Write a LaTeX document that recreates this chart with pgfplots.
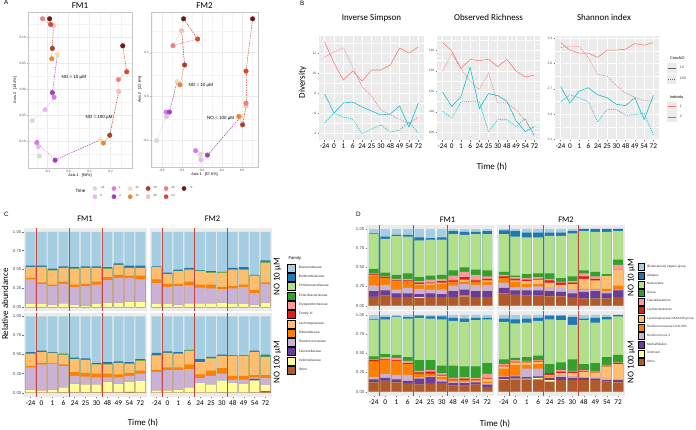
\documentclass[border=0pt]{standalone}
\usepackage{pgfplots}
\pgfplotsset{compat=1.18}
\usepackage{pgfplotstable}
\usepackage{fontspec}
\setmainfont{Liberation Sans}
\newfontfamily\calfont{Carlito}

\definecolor{panelbg}{HTML}{EBEBEB}
\definecolor{ticktxt}{HTML}{4D4D4D}
\definecolor{salm}{HTML}{F8766D}
\definecolor{cyanl}{HTML}{00BFC4}
\definecolor{sepred}{HTML}{C0473F}
% Paired palette
\definecolor{pa}{HTML}{A6CEE3}
\definecolor{pb}{HTML}{1F78B4}
\definecolor{pc}{HTML}{B2DF8A}
\definecolor{pd}{HTML}{33A02C}
\definecolor{pe}{HTML}{FB9A99}
\definecolor{pf}{HTML}{E31A1C}
\definecolor{pg}{HTML}{FDBF6F}
\definecolor{ph}{HTML}{FF7F00}
\definecolor{pi}{HTML}{CAB2D6}
\definecolor{pj}{HTML}{6A3D9A}
\definecolor{pk}{HTML}{FFFF99}
\definecolor{pl}{HTML}{B15928}
% time colours (panel A)
\definecolor{tA}{RGB}{217,217,217}
\definecolor{tB}{RGB}{233,184,242}
\definecolor{tC}{RGB}{213,122,238}
\definecolor{tD}{RGB}{166,60,190}
\definecolor{tE}{RGB}{247,217,188}
\definecolor{tF}{RGB}{232,135,58}
\definecolor{tG}{RGB}{181,59,38}
\definecolor{tH}{RGB}{242,193,185}
\definecolor{tI}{RGB}{232,132,122}
\definecolor{tJ}{RGB}{217,70,58}
\definecolor{tK}{RGB}{112,26,18}

% ---------------- panel A data (PCoA) ----------------
\pgfplotstableread{
x y c
-0.172 -0.061 0
-0.112 -0.040 1
-0.069 -0.016 2
-0.077 -0.007 3
-0.053 0.066 4
-0.080 0.058 5
-0.077 0.078 6
-0.072 0.122 7
-0.124 0.135 8
-0.085 0.124 9
-0.090 0.135 10
}\AoneLo
\pgfplotstableread{
x y c
-0.139 -0.129 0
-0.144 -0.111 1
-0.151 -0.103 2
-0.064 -0.137 3
0.150 -0.098 4
0.166 -0.104 5
0.196 -0.089 6
0.239 -0.005 7
0.237 0.018 8
0.277 0.033 9
0.258 0.083 10
}\AoneHi
\pgfplotstableread{
x y c
-0.227 -0.100 0
-0.177 -0.045 1
-0.180 -0.035 2
-0.163 -0.035 3
-0.125 0.034 4
-0.110 0.027 5
-0.087 0.072 6
-0.102 0.150 7
-0.145 0.116 8
-0.022 0.131 9
-0.092 0.177 10
}\AtwoLo
\pgfplotstableread{
x y c
-0.008 -0.132 0
-0.005 -0.144 1
-0.032 -0.123 2
0.027 -0.133 3
0.195 -0.045 4
0.184 -0.045 5
0.203 -0.064 6
0.220 -0.021 7
0.220 -0.015 8
0.220 0.058 9
0.253 0.177 10
}\AtwoHi

% ---------------- panel B data (diversity) ----------------
\pgfplotstableread{
x s10 s100 c10 c100
0 13.1 11.6 7.9 5.0
1 11.0 12.1 6.0 6.0
2 9.3 12.5 7.0 5.6
3 10.2 10.6 7.1 5.4
4 9.2 8.6 6.6 3.9
5 10.3 7.7 6.2 4.4
6 10.3 6.3 5.8 4.8
7 10.8 5.8 5.9 4.1
8 12.5 5.4 6.7 4.3
9 12.0 4.9 4.6 5.1
10 12.6 5.6 7.0 4.0
}\InvSimp
\pgfplotstableread{
x s10 s100 c10 c100
0 143.8 129.8 119.7 110.2
1 139.7 138.4 112.6 106.9
2 131.1 131.1 117.4 114.9
3 135.6 124.9 131.8 114.9
4 134.9 120.8 111.5 114.9
5 135.7 128.9 118.9 100.3
6 132.0 114.3 117.9 106.1
7 135.6 114.3 115.1 106.1
8 129.8 111.0 105.6 102.8
9 127.0 105.6 100.3 106.6
10 127.9 98.7 102.8 97.9
}\ObsRich
\pgfplotstableread{
x s10 s100 c10 c100
0 3.249 3.19 2.727 2.543
1 3.159 3.20 2.531 2.629
2 3.124 3.20 2.673 2.594
3 3.124 3.07 2.712 2.543
4 3.073 2.87 2.629 2.308
5 3.159 2.85 2.594 2.453
6 3.159 2.74 2.516 2.453
7 3.171 2.65 2.500 2.386
8 3.237 2.60 2.594 2.394
9 3.218 2.555 2.335 2.406
10 3.249 2.555 2.622 2.151
}\Shannon

% ---------------- panel C data (family, cumulative tops) ----------------
\pgfplotstableread{
x oth vei tan rum rik lac ent bur top
0 0 0.04 0.04 0.37 0.39 0.53 0.535 0.55 1
1 0 0.04 0.04 0.31 0.33 0.53 0.535 0.55 1
2 0 0.03 0.03 0.28 0.30 0.49 0.495 0.51 1
3 0 0.05 0.05 0.31 0.34 0.52 0.525 0.54 1
4 0 0.03 0.03 0.27 0.30 0.51 0.515 0.53 1
5 0 0.02 0.02 0.28 0.31 0.52 0.525 0.54 1
6 0 0.04 0.04 0.30 0.34 0.52 0.525 0.54 1
7 0 0.06 0.06 0.36 0.40 0.51 0.515 0.53 1
8 0 0.06 0.06 0.39 0.43 0.56 0.565 0.58 1
9 0 0.07 0.07 0.39 0.42 0.52 0.525 0.55 1
10 0 0.07 0.07 0.37 0.42 0.52 0.525 0.55 1
}\ConeLo
\pgfplotstableread{
x oth vei tan rum rik lac ent bur top
0 0 0.04 0.04 0.33 0.35 0.51 0.515 0.53 1
1 0 0.03 0.03 0.37 0.39 0.53 0.535 0.55 1
2 0 0.04 0.04 0.38 0.39 0.52 0.525 0.53 1
3 0.005 0.07 0.07 0.35 0.37 0.50 0.505 0.51 1
4 0.005 0.12 0.12 0.22 0.27 0.44 0.445 0.46 1
5 0.005 0.11 0.11 0.21 0.26 0.43 0.435 0.45 1
6 0.005 0.11 0.11 0.20 0.25 0.37 0.375 0.39 1
7 0.005 0.14 0.14 0.20 0.25 0.37 0.38 0.40 1
8 0.005 0.12 0.12 0.20 0.24 0.39 0.395 0.41 1
9 0.01 0.14 0.14 0.22 0.26 0.38 0.385 0.40 1
10 0.005 0.15 0.15 0.25 0.29 0.42 0.425 0.44 1
}\ConeHi
\pgfplotstableread{
x oth vei tan rum rik lac ent bur top
0 0 0.04 0.04 0.32 0.37 0.53 0.535 0.54 1
1 0 0.04 0.04 0.27 0.31 0.44 0.445 0.46 1
2 0 0.03 0.03 0.28 0.31 0.48 0.485 0.50 1
3 0 0.05 0.05 0.29 0.34 0.50 0.505 0.52 1
4 0 0.05 0.05 0.26 0.30 0.48 0.485 0.49 1
5 0 0.05 0.05 0.25 0.30 0.46 0.465 0.48 1
6 0 0.06 0.06 0.24 0.27 0.46 0.465 0.47 1
7 0 0.04 0.04 0.25 0.28 0.50 0.505 0.52 1
8 0 0.04 0.04 0.27 0.30 0.50 0.505 0.53 1
9 0 0.03 0.03 0.19 0.23 0.42 0.425 0.43 1
10 0 0.06 0.06 0.31 0.33 0.59 0.61 0.62 1
}\CtwoLo
\pgfplotstableread{
x oth vei tan rum rik lac ent bur top
0 0 0.03 0.03 0.27 0.30 0.49 0.495 0.52 1
1 0 0.03 0.03 0.30 0.33 0.52 0.525 0.54 1
2 0 0.04 0.04 0.30 0.33 0.51 0.515 0.53 1
3 0 0.07 0.07 0.31 0.37 0.55 0.555 0.56 1
4 0 0.13 0.13 0.19 0.24 0.40 0.41 0.44 1
5 0 0.11 0.11 0.22 0.29 0.45 0.46 0.47 1
6 0.005 0.16 0.16 0.25 0.32 0.48 0.49 0.50 1
7 0 0.13 0.13 0.17 0.22 0.48 0.485 0.49 1
8 0 0.12 0.12 0.17 0.22 0.48 0.485 0.49 1
9 0.005 0.16 0.18 0.20 0.23 0.53 0.54 0.55 1
10 0.02 0.10 0.10 0.19 0.23 0.47 0.49 0.50 1
}\CtwoHi

% ---------------- panel D data (genus, cumulative tops) ----------------
\pgfplotstableread{
x oth unk mul rtw ucg nkf lcl fae dor bac ali top
0 0.11 0.115 0.19 0.265 0.39 0.40 0.41 0.42 0.48 0.93 0.94 1
1 0.13 0.13 0.20 0.27 0.36 0.36 0.37 0.38 0.43 0.87 0.90 1
2 0.10 0.10 0.16 0.21 0.32 0.32 0.33 0.35 0.40 0.905 0.92 1
3 0.11 0.11 0.16 0.23 0.32 0.32 0.33 0.35 0.42 0.90 0.92 1
4 0.10 0.11 0.15 0.22 0.27 0.28 0.30 0.32 0.37 0.85 0.89 1
5 0.11 0.11 0.16 0.21 0.27 0.29 0.30 0.34 0.39 0.86 0.88 1
6 0.11 0.11 0.15 0.21 0.28 0.30 0.32 0.35 0.40 0.86 0.89 1
7 0.11 0.11 0.19 0.26 0.31 0.31 0.33 0.39 0.46 0.93 0.97 1
8 0.12 0.13 0.21 0.28 0.31 0.34 0.37 0.44 0.50 0.92 0.96 1
9 0.10 0.10 0.19 0.27 0.31 0.31 0.33 0.40 0.47 0.93 0.96 1
10 0.11 0.11 0.19 0.27 0.31 0.33 0.35 0.38 0.46 0.93 0.97 1
}\DoneLo
\pgfplotstableread{
x oth unk mul rtw ucg nkf lcl fae dor bac ali top
0 0.12 0.12 0.16 0.19 0.39 0.39 0.41 0.42 0.46 0.93 0.94 1
1 0.14 0.14 0.18 0.23 0.41 0.41 0.42 0.45 0.49 0.94 0.97 1
2 0.12 0.12 0.16 0.22 0.40 0.40 0.41 0.44 0.48 0.97 0.98 1
3 0.10 0.10 0.14 0.22 0.36 0.36 0.37 0.40 0.45 0.95 0.97 1
4 0.09 0.09 0.17 0.19 0.23 0.23 0.25 0.27 0.41 0.96 0.99 1
5 0.10 0.10 0.19 0.20 0.23 0.23 0.26 0.28 0.41 0.95 0.98 1
6 0.11 0.11 0.13 0.16 0.19 0.21 0.22 0.24 0.34 0.94 0.98 1
7 0.08 0.08 0.11 0.13 0.15 0.15 0.16 0.18 0.34 0.92 0.96 1
8 0.08 0.08 0.11 0.13 0.15 0.15 0.17 0.19 0.33 0.91 0.95 1
9 0.09 0.09 0.12 0.14 0.15 0.15 0.16 0.18 0.33 0.93 0.96 1
10 0.06 0.06 0.09 0.11 0.13 0.17 0.18 0.23 0.37 0.94 0.96 1
}\DoneHi
\pgfplotstableread{
x oth unk mul rtw ucg nkf lcl fae dor bac ali top
0 0.16 0.16 0.23 0.30 0.36 0.36 0.38 0.40 0.44 0.93 0.98 1
1 0.14 0.14 0.20 0.24 0.31 0.33 0.35 0.37 0.39 0.90 0.97 1
2 0.13 0.13 0.20 0.24 0.28 0.32 0.34 0.36 0.41 0.89 0.95 1
3 0.13 0.13 0.20 0.25 0.28 0.34 0.35 0.37 0.42 0.89 0.95 1
4 0.12 0.12 0.19 0.24 0.24 0.30 0.33 0.35 0.42 0.91 0.95 1
5 0.12 0.12 0.18 0.23 0.23 0.27 0.30 0.31 0.36 0.91 0.95 1
6 0.10 0.10 0.16 0.21 0.21 0.28 0.30 0.32 0.38 0.94 0.97 1
7 0.09 0.09 0.18 0.21 0.22 0.35 0.38 0.42 0.46 0.97 1 1
8 0.09 0.09 0.19 0.21 0.22 0.33 0.35 0.38 0.44 0.96 1 1
9 0.09 0.09 0.16 0.19 0.22 0.385 0.39 0.39 0.41 0.96 1 1
10 0.10 0.10 0.20 0.21 0.26 0.47 0.47 0.53 0.60 0.97 1 1
}\DtwoLo
\pgfplotstableread{
x oth unk mul rtw ucg nkf lcl fae dor bac ali top
0 0.15 0.16 0.19 0.20 0.30 0.33 0.34 0.36 0.42 0.91 0.95 1
1 0.16 0.17 0.20 0.21 0.35 0.38 0.39 0.41 0.44 0.89 0.94 1
2 0.16 0.17 0.19 0.30 0.35 0.38 0.39 0.40 0.45 0.90 0.95 1
3 0.16 0.18 0.20 0.30 0.36 0.39 0.40 0.41 0.47 0.92 0.96 1
4 0.13 0.15 0.18 0.19 0.20 0.22 0.24 0.24 0.36 0.94 0.99 1
5 0.15 0.15 0.19 0.21 0.21 0.24 0.26 0.28 0.38 0.93 0.99 1
6 0.15 0.15 0.18 0.20 0.20 0.24 0.26 0.27 0.42 0.87 0.97 1
7 0.15 0.15 0.18 0.19 0.19 0.26 0.27 0.28 0.36 0.93 0.95 1
8 0.15 0.15 0.17 0.19 0.19 0.25 0.26 0.27 0.37 0.90 0.96 1
9 0.13 0.13 0.15 0.17 0.17 0.33 0.34 0.35 0.45 0.94 0.97 1
10 0.12 0.12 0.15 0.16 0.16 0.36 0.37 0.38 0.48 0.98 1 1
}\DtwoHi

\pgfplotsset{
  colormap={timecols}{rgb255=(217,217,217) rgb255=(233,184,242) rgb255=(213,122,238)
    rgb255=(166,60,190) rgb255=(247,217,188) rgb255=(232,135,58) rgb255=(181,59,38)
    rgb255=(242,193,185) rgb255=(232,132,122) rgb255=(217,70,58) rgb255=(112,26,18)},
  pcoa/.style={scale only axis, anchor=north west,
    axis line style={gray!45, line width=0.4pt},
    grid=both, major grid style={gray!16, line width=0.35pt},
    minor grid style={gray!9, line width=0.2pt},
    tick align=outside, tick pos=left, major tick length=1.2pt, minor tick length=0pt,
    tick style={gray!70, line width=0.3pt},
    ticklabel style={font=\fontsize{3.2}{4}\selectfont, text=ticktxt, inner sep=0.8pt},
    label style={font=\fontsize{3.8}{4.5}\selectfont, inner sep=0.5pt},
    colormap name=timecols, point meta min=0, point meta max=10},
  divax/.style={scale only axis, anchor=north west, xmin=-0.6, xmax=10.6, height=104pt,
    axis background/.style={fill=panelbg}, axis line style={draw=none},
    xtick={0,...,10}, xticklabels={-24,0,1,6,24,25,30,48,49,54,72},
    grid=both, major grid style={white, line width=0.45pt},
    minor grid style={white, line width=0.2pt},
    tick align=outside, tick pos=left, major tick length=1.5pt, minor tick length=0pt,
    tick style={ticktxt!80, line width=0.3pt},
    yticklabel style={font=\fontsize{3.3}{4}\selectfont, text=ticktxt, inner sep=1pt},
    xticklabel style={font=\calfont\fontsize{7.3}{8}\selectfont, text=black, inner sep=1pt, yshift=-0.8pt}},
  stackax/.style={scale only axis, anchor=north west, xmin=-0.6, xmax=10.6, ymin=-0.05, ymax=1.05,
    axis background/.style={fill=panelbg}, axis line style={draw=none},
    xtick={0,...,10}, xticklabels={-24,0,1,6,24,25,30,48,49,54,72},
    ytick={0,0.25,0.5,0.75,1}, yticklabels={0.00,0.25,0.50,0.75,1.00},
    tick align=outside, tick pos=left, major tick length=1.5pt,
    tick style={ticktxt!80, line width=0.3pt},
    yticklabel style={font=\fontsize{4.3}{5}\selectfont, text=ticktxt, inner sep=1pt},
    xticklabel style={font=\calfont\fontsize{7.3}{8}\selectfont, text=black, inner sep=1pt, yshift=-1.2pt}},
  topfacet/.style={xtick=\empty},
  rightfacet/.style={ytick=\empty},
  cb/.style={ybar, bar width=0.9, bar shift=0pt, draw=none},
  db/.style={ybar, bar width=0.86, bar shift=0pt, draw=none},
  emptyax/.style={hide axis, scale only axis, width=2pt, height=2pt, anchor=north west,
    xmin=0, xmax=1, ymin=0, ymax=1, legend cell align=left},
}

% red separators between the sampling phases
\newcommand{\seps}{%
  \draw[sepred, line width=0.9pt] (axis cs:0.5,-0.05) -- (axis cs:0.5,1.05);
  \draw[sepred, line width=0.9pt] (axis cs:3.5,-0.05) -- (axis cs:3.5,1.05);
  \draw[sepred, line width=0.9pt] (axis cs:6.5,-0.05) -- (axis cs:6.5,1.05);}
\newcommand{\Cbars}[1]{%
  \addplot[cb, fill=pa] table[x=x,y=top]{#1};
  \addplot[cb, fill=pb] table[x=x,y=bur]{#1};
  \addplot[cb, fill=pd] table[x=x,y=ent]{#1};
  \addplot[cb, fill=pg] table[x=x,y=lac]{#1};
  \addplot[cb, fill=ph] table[x=x,y=rik]{#1};
  \addplot[cb, fill=pi] table[x=x,y=rum]{#1};
  \addplot[cb, fill=pj] table[x=x,y=tan]{#1};
  \addplot[cb, fill=pk] table[x=x,y=vei]{#1};
  \addplot[cb, fill=pl] table[x=x,y=oth]{#1};
  \seps}
\newcommand{\Dbars}[1]{%
  \addplot[ybar, bar width=1, bar shift=0pt, draw=none, fill=white] table[x=x,y=top]{#1};
  \addplot[db, fill=pa] table[x=x,y=top]{#1};
  \addplot[db, fill=pb] table[x=x,y=ali]{#1};
  \addplot[db, fill=pc] table[x=x,y=bac]{#1};
  \addplot[db, fill=pd] table[x=x,y=dor]{#1};
  \addplot[db, fill=pe] table[x=x,y=fae]{#1};
  \addplot[db, fill=pf] table[x=x,y=lcl]{#1};
  \addplot[db, fill=pg] table[x=x,y=nkf]{#1};
  \addplot[db, fill=ph] table[x=x,y=ucg]{#1};
  \addplot[db, fill=pi] table[x=x,y=rtw]{#1};
  \addplot[db, fill=pj] table[x=x,y=mul]{#1};
  \addplot[db, fill=pk] table[x=x,y=unk]{#1};
  \addplot[db, fill=pl] table[x=x,y=oth]{#1};
  \seps}
\newcommand{\pcoaplot}[1]{%
  \addplot[mesh, shader=flat corner, point meta=explicit,
    line width=0.5pt, dash pattern=on 1.5pt off 1pt] table[x=x,y=y,meta=c]{#1};
  \addplot[scatter, only marks, mark=*, mark size=2.3pt, point meta=explicit,
    scatter/use mapped color={draw=mapped color, fill=mapped color}]
    table[x=x,y=y,meta=c]{#1};}

\begin{document}
\begin{tikzpicture}[x=1pt, y=1pt]
\useasboundingbox (0,0) rectangle (696,429);

% ===================== panel A =====================
\begin{axis}[pcoa, at={(28pt,417pt)}, width=104pt, height=156pt,
  xmin=-0.193, xmax=0.302, ymin=-0.152, ymax=0.148,
  xtick={-0.1,0,0.1,0.2}, xticklabels={-0.1,0.0,0.1,0.2},
  ytick={-0.1,-0.05,0,0.05,0.1}, yticklabels={-0.10,-0.05,0.00,0.05,0.10},
  minor xtick={-0.15,-0.05,0.05,0.15,0.25}, minor ytick={-0.125,-0.075,-0.025,0.025,0.075,0.125},
  xlabel={Axis.1\ \ \ [58\%]}, ylabel={Axis.2\ \ \ [19.4\%]}]
  \pcoaplot{\AoneLo}
  \pcoaplot{\AoneHi}
  \node[anchor=west, font=\fontsize{4.5}{5}\selectfont] at (axis cs:-0.05,0.023) {NO = 10 µM};
  \node[anchor=west, font=\fontsize{4.5}{5}\selectfont] at (axis cs:0.064,-0.054) {NO = 100 µM};
\end{axis}
\begin{axis}[pcoa, at={(151pt,417pt)}, width=107pt, height=155pt,
  xmin=-0.255, xmax=0.28, ymin=-0.16, ymax=0.1925,
  xtick={-0.2,-0.1,0,0.1,0.2}, xticklabels={-0.2,-0.1,0.0,0.1,0.2},
  ytick={-0.1,0,0.1}, yticklabels={-0.1,0.0,0.1},
  minor xtick={-0.25,-0.15,-0.05,0.05,0.15,0.25}, minor ytick={-0.15,-0.05,0.05,0.15},
  xlabel={Axis.1\ \ \ [57.6\%]}, ylabel={Axis.2\ \ \ [22.6\%]}]
  \pcoaplot{\AtwoLo}
  \pcoaplot{\AtwoHi}
  \node[anchor=west, font=\fontsize{4.5}{5}\selectfont] at (axis cs:-0.085,0.025) {NO = 10 µM};
  \node[anchor=west, font=\fontsize{4.5}{5}\selectfont] at (axis cs:0.008,-0.049) {NO = 100 µM};
\end{axis}
% time legend
\begin{axis}[emptyax, at={(92.5pt,244.5pt)}, legend columns=6,
  legend style={at={(0,1)}, anchor=north west, draw=none, fill=none, inner sep=0pt,
    font=\fontsize{3}{3.5}\selectfont, text=ticktxt, row sep=0.6pt,
    /tikz/every odd column/.append style={column sep=1pt},
    /tikz/every even column/.append style={column sep=5pt}},
  legend image code/.code={\fill[#1] (2.1pt,0pt) circle (2.1pt);}]
  \addlegendimage{color=tA}\addlegendentry{-24}
  \addlegendimage{color=tC}\addlegendentry{1}
  \addlegendimage{color=tE}\addlegendentry{24}
  \addlegendimage{color=tG}\addlegendentry{30}
  \addlegendimage{color=tI}\addlegendentry{49}
  \addlegendimage{color=tK}\addlegendentry{72}
  \addlegendimage{color=tB}\addlegendentry{0}
  \addlegendimage{color=tD}\addlegendentry{4}
  \addlegendimage{color=tF}\addlegendentry{25}
  \addlegendimage{color=tH}\addlegendentry{48}
  \addlegendimage{color=tJ}\addlegendentry{54}
\end{axis}
\node[anchor=east, font=\fontsize{4.5}{5}\selectfont] at (89,238.5) {Time};
\node[anchor=base, font=\calfont\fontsize{9}{10}\selectfont] at (80,420.7) {FM1};
\node[anchor=base, font=\calfont\fontsize{9}{10}\selectfont] at (204.5,420.7) {FM2};
\node[anchor=base west, font=\fontsize{6.3}{7}\selectfont] at (0.5,424) {A};

% ===================== panel B =====================
\begin{axis}[divax, at={(319pt,393pt)}, width=105pt, ymin=3.3, ymax=13.7,
  ytick={4,6,8,10,12}, yticklabels={4,6,8,10,12}, minor ytick={5,7,9,11,13}]
  \addplot[salm, line width=0.55pt] table[x=x,y=s10]{\InvSimp};
  \addplot[salm, line width=0.55pt, dash pattern=on 1.2pt off 1pt] table[x=x,y=s100]{\InvSimp};
  \addplot[cyanl, line width=0.55pt] table[x=x,y=c10]{\InvSimp};
  \addplot[cyanl, line width=0.55pt, dash pattern=on 1.2pt off 1pt] table[x=x,y=c100]{\InvSimp};
\end{axis}
\begin{axis}[divax, at={(437pt,393pt)}, width=103pt, ymin=96.2, ymax=147,
  ytick={100,110,120,130,140}, yticklabels={100,110,120,130,140}, minor ytick={105,115,125,135,145}]
  \addplot[salm, line width=0.55pt] table[x=x,y=s10]{\ObsRich};
  \addplot[salm, line width=0.55pt, dash pattern=on 1.2pt off 1pt] table[x=x,y=s100]{\ObsRich};
  \addplot[cyanl, line width=0.55pt] table[x=x,y=c10]{\ObsRich};
  \addplot[cyanl, line width=0.55pt, dash pattern=on 1.2pt off 1pt] table[x=x,y=c100]{\ObsRich};
\end{axis}
\begin{axis}[divax, at={(555pt,393pt)}, width=104pt, ymin=2.092, ymax=3.327,
  ytick={2.1,2.4,2.7,3.0,3.3}, yticklabels={2.1,2.4,2.7,3.0,3.3}, minor ytick={2.25,2.55,2.85,3.15}]
  \addplot[salm, line width=0.55pt] table[x=x,y=s10]{\Shannon};
  \addplot[salm, line width=0.55pt, dash pattern=on 1.2pt off 1pt] table[x=x,y=s100]{\Shannon};
  \addplot[cyanl, line width=0.55pt] table[x=x,y=c10]{\Shannon};
  \addplot[cyanl, line width=0.55pt, dash pattern=on 1.2pt off 1pt] table[x=x,y=c100]{\Shannon};
\end{axis}
% legends B
\begin{axis}[emptyax, at={(666.5pt,365.7pt)},
  legend style={at={(0,1)}, anchor=north west, draw=none, fill=none, inner sep=0pt,
    font=\fontsize{3.6}{4}\selectfont, text=ticktxt, row sep=1.4pt,
    /tikz/every odd column/.append style={column sep=1.5pt}},
  legend image code/.code={\fill[panelbg] (0pt,-4.5pt) rectangle (9pt,4.5pt);
    \draw[#1] (0.5pt,0pt) -- (8.5pt,0pt);}]
  \addlegendimage{gray!80!black, line width=0.6pt}\addlegendentry{10}
  \addlegendimage{gray!80!black, line width=0.6pt, dash pattern=on 1.2pt off 1pt}\addlegendentry{100}
\end{axis}
\begin{axis}[emptyax, at={(666.5pt,327.3pt)},
  legend style={at={(0,1)}, anchor=north west, draw=none, fill=none, inner sep=0pt,
    font=\fontsize{3.6}{4}\selectfont, text=ticktxt, row sep=0.6pt,
    /tikz/every odd column/.append style={column sep=1.5pt}},
  legend image code/.code={\fill[panelbg] (0pt,-4.5pt) rectangle (9pt,4.5pt);
    \draw[#1] (0.5pt,0pt) -- (8.5pt,0pt);}]
  \addlegendimage{salm, line width=0.6pt}\addlegendentry{1}
  \addlegendimage{cyanl, line width=0.6pt}\addlegendentry{2}
\end{axis}
\node[anchor=base west, font=\fontsize{3.8}{4}\selectfont] at (666.5,369.5) {ConcNO};
\node[anchor=base west, font=\fontsize{3.8}{4}\selectfont] at (666.5,330.5) {Individu};
\node[anchor=base, font=\calfont\fontsize{9}{10}\selectfont] at (371.5,408.5) {Inverse Simpson};
\node[anchor=base, font=\calfont\fontsize{9}{10}\selectfont] at (488.5,408.5) {Observed Richness};
\node[anchor=base, font=\calfont\fontsize{9}{10}\selectfont] at (604,408.5) {Shannon index};
\node[rotate=90, font=\calfont\fontsize{9}{10}\selectfont] at (302.5,346.5) {Diversity};
\node[anchor=base, font=\calfont\fontsize{9}{10}\selectfont] at (492,259) {Time (h)};
\node[anchor=base west, font=\fontsize{6.3}{7}\selectfont] at (296.5,423.3) {B};

% ===================== panel C =====================
\begin{axis}[stackax, topfacet, at={(24pt,201pt)}, width=123pt, height=83pt]
  \Cbars{\ConeLo}
\end{axis}
\begin{axis}[stackax, at={(24pt,116.5pt)}, width=123pt, height=84pt]
  \Cbars{\ConeHi}
\end{axis}
\begin{axis}[stackax, topfacet, rightfacet, at={(150pt,201pt)}, width=122pt, height=83pt]
  \Cbars{\CtwoLo}
\end{axis}
\begin{axis}[stackax, rightfacet, at={(150pt,116.5pt)}, width=122pt, height=84pt]
  \Cbars{\CtwoHi}
\end{axis}
\begin{axis}[emptyax, at={(286.5pt,165.5pt)},
  legend style={at={(0,1)}, anchor=north west, draw=none, fill=none, inner sep=0pt,
    font=\fontsize{3.3}{4}\selectfont, text=black!80, row sep=0.9pt,
    /tikz/every odd column/.append style={column sep=1.5pt}},
  legend image code/.code={\fill[#1] (0pt,-4pt) rectangle (8.3pt,4pt);}]
  \addlegendimage{fill=pa}\addlegendentry{Bacteroidaceae}
  \addlegendimage{fill=pb}\addlegendentry{Burkholderiaceae}
  \addlegendimage{fill=pc}\addlegendentry{Christensenellaceae}
  \addlegendimage{fill=pd}\addlegendentry{Enterobacteriaceae}
  \addlegendimage{fill=pe}\addlegendentry{Erysipelotrichaceae}
  \addlegendimage{fill=pf}\addlegendentry{Family XI}
  \addlegendimage{fill=pg}\addlegendentry{Lachnospiraceae}
  \addlegendimage{fill=ph}\addlegendentry{Rikenellaceae}
  \addlegendimage{fill=pi}\addlegendentry{Ruminococcaceae}
  \addlegendimage{fill=pj}\addlegendentry{Tannerellaceae}
  \addlegendimage{fill=pk}\addlegendentry{Veillonellaceae}
  \addlegendimage{fill=pl}\addlegendentry{Other}
\end{axis}
\node[anchor=base west, font=\fontsize{4.2}{5}\selectfont] at (285,169.7) {Family};
\node[anchor=base, font=\calfont\fontsize{8.5}{9}\selectfont] at (85,207.5) {FM1};
\node[anchor=base, font=\calfont\fontsize{8.5}{9}\selectfont] at (212.5,207.5) {FM2};
\node[rotate=90, font=\calfont\fontsize{9}{10}\selectfont] at (277.5,152) {NO 10 µM};
\node[rotate=90, font=\calfont\fontsize{9}{10}\selectfont] at (277.5,67) {NO 100 µM};
\node[rotate=90, font=\calfont\fontsize{9}{10}\selectfont] at (5,125) {Relative abundance};
\node[anchor=base, font=\calfont\fontsize{9}{10}\selectfont] at (143,4) {Time (h)};
\node[anchor=base west, font=\fontsize{6.3}{7}\selectfont] at (0.5,212.3) {C};

% ===================== panel D =====================
\begin{axis}[stackax, topfacet, at={(367pt,204pt)}, width=127pt, height=84.5pt]
  \Dbars{\DoneLo}
\end{axis}
\begin{axis}[stackax, at={(367pt,118pt)}, width=127pt, height=84.5pt]
  \Dbars{\DoneHi}
\end{axis}
\begin{axis}[stackax, topfacet, rightfacet, at={(497pt,204pt)}, width=128pt, height=84.5pt]
  \Dbars{\DtwoLo}
\end{axis}
\begin{axis}[stackax, rightfacet, at={(497pt,118pt)}, width=128pt, height=84.5pt]
  \Dbars{\DtwoHi}
\end{axis}
\begin{axis}[emptyax, at={(638pt,166pt)},
  legend style={at={(0,1)}, anchor=north west, draw=none, fill=none, inner sep=0pt,
    font=\fontsize{3.1}{3.6}\selectfont, text=black!80, row sep=0.9pt,
    /tikz/every odd column/.append style={column sep=1pt}},
  legend image code/.code={\fill[#1] (0pt,-3.5pt) rectangle (5.5pt,3.5pt);}]
  \addlegendimage{fill=pa}\addlegendentry{[Eubacterium] eligens group}
  \addlegendimage{fill=pb}\addlegendentry{Alistipes}
  \addlegendimage{fill=pc}\addlegendentry{Bacteroides}
  \addlegendimage{fill=pd}\addlegendentry{Dorea}
  \addlegendimage{fill=pe}\addlegendentry{Faecalibacterium}
  \addlegendimage{fill=pf}\addlegendentry{Lachnoclostridium}
  \addlegendimage{fill=pg}\addlegendentry{Lachnospiraceae NK4A136 group}
  \addlegendimage{fill=ph}\addlegendentry{Ruminococcaceae UCG-002}
  \addlegendimage{fill=pi}\addlegendentry{Ruminococcus 2}
  \addlegendimage{fill=pj}\addlegendentry{Multi-affiliation}
  \addlegendimage{fill=pk}\addlegendentry{Unknown}
  \addlegendimage{fill=pl}\addlegendentry{Other}
\end{axis}
\node[anchor=base, font=\calfont\fontsize{8.5}{9}\selectfont] at (447.5,207) {FM1};
\node[anchor=base, font=\calfont\fontsize{8.5}{9}\selectfont] at (566,207) {FM2};
\node[rotate=90, font=\calfont\fontsize{9}{10}\selectfont] at (631.5,151) {NO 10 µM};
\node[rotate=90, font=\calfont\fontsize{9}{10}\selectfont] at (631.5,67) {NO 100 µM};
\node[anchor=base, font=\calfont\fontsize{9}{10}\selectfont] at (495,2.5) {Time (h)};
\node[anchor=base west, font=\fontsize{6.3}{7}\selectfont] at (352.5,212.3) {D};
\end{tikzpicture}
\end{document}
